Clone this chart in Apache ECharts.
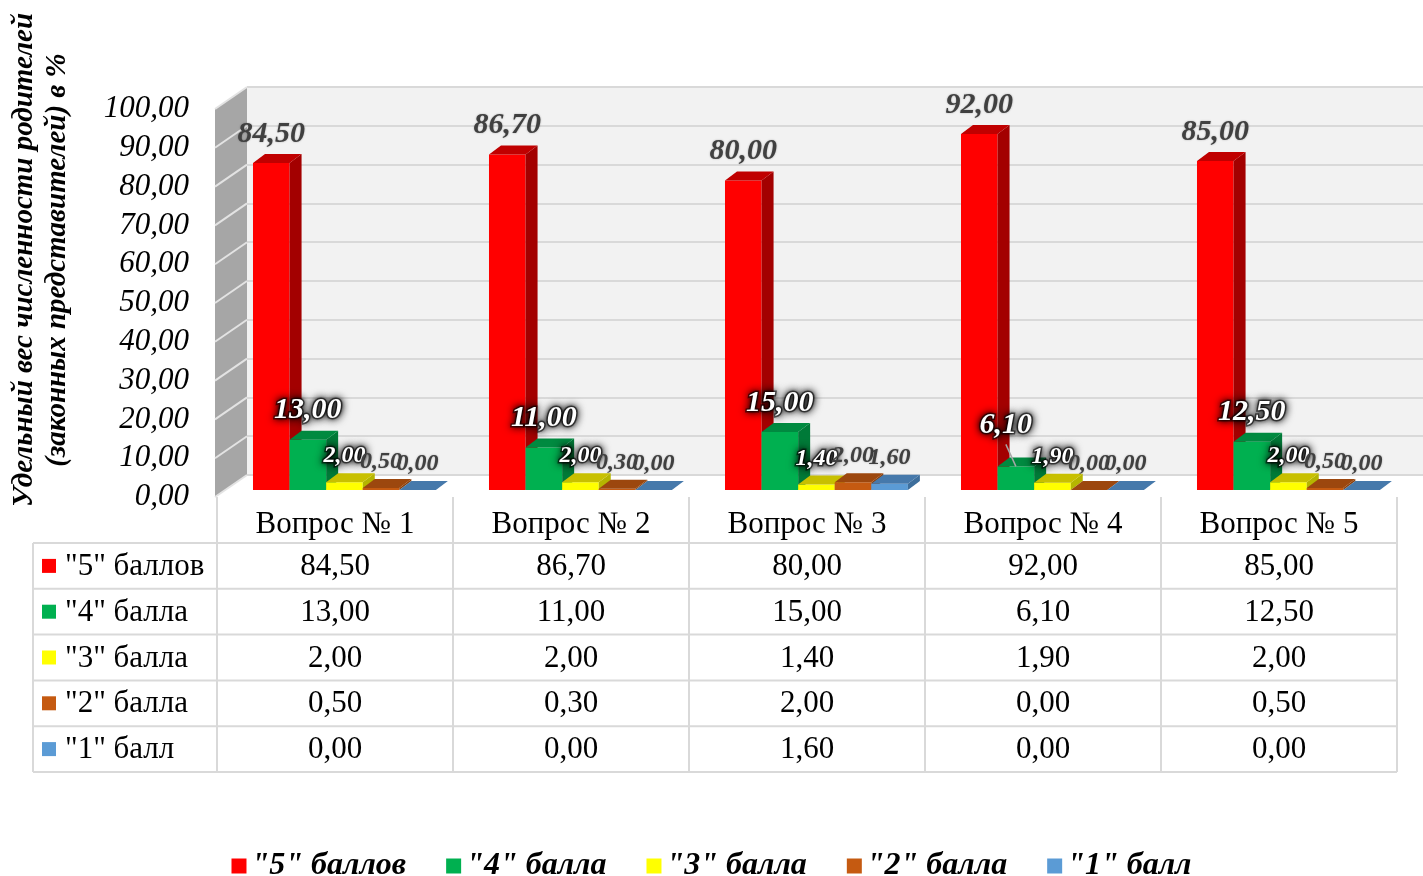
<!DOCTYPE html>
<html>
<head>
<meta charset="utf-8">
<title>Оценка родителей</title>
<script src="https://cdn.jsdelivr.net/npm/echarts@6/dist/echarts.min.js"></script>
<style>
  html, body { margin: 0; padding: 0; background: #fff; }
  #chart { width: 1423px; height: 876px; }
</style>
</head>
<body>
<div id="chart"></div>
<script>
// данные опроса
const categories = ['Вопрос № 1', 'Вопрос № 2', 'Вопрос № 3', 'Вопрос № 4', 'Вопрос № 5'];
const seriesNames = ['"5" баллов', '"4" балла', '"3" балла', '"2" балла', '"1" балл'];
const score5 = [84.5, 86.7, 80.0, 92.0, 85.0];
const score4 = [13.0, 11.0, 15.0, 6.1, 12.5];
const score3 = [2.0, 2.0, 1.4, 1.9, 2.0];
const score2 = [0.5, 0.3, 2.0, 0.0, 0.5];
const score1 = [0.0, 0.0, 1.6, 0.0, 0.0];
const yTicks = [0, 10, 20, 30, 40, 50, 60, 70, 80, 90, 100];
const allScores = [score5, score4, score3, score2, score1];

const SERIF = '"Liberation Serif", "Times New Roman", serif';
// цвета граней: перед, бок, верх
const palette = [
  { front: '#ff0000', side: '#a30000', top: '#c00000' },
  { front: '#00b050', side: '#007a38', top: '#008a40' },
  { front: '#ffff00', side: '#b5b500', top: '#c8c000' },
  { front: '#c55a11', side: '#8a3f0c', top: '#9c470e' },
  { front: '#5b9bd5', side: '#3d6e9c', top: '#4679ab' }
];

const fmt = v => v.toFixed(2).replace('.', ',');

function renderBar(si) {
  return function (params, api) {
    const ci = api.value(0), v = api.value(1);
    const top = api.coord([ci, v]);
    const base = api.coord([ci, 0]);
    const band = api.size([1, 0])[0];
    const bw = band * 0.155;
    const x0 = top[0] - 2.5 * bw + band * 0.04 + si * bw;
    const yT = top[1], yB = base[1];
    const DX = 12, DY = -9;
    const col = palette[si];
    const kids = [
      { type: 'rect', shape: { x: x0, y: yT, width: bw, height: yB - yT }, style: { fill: col.front } },
      { type: 'polygon', shape: { points: [[x0 + bw, yT], [x0 + bw + DX, yT + DY], [x0 + bw + DX, yB + DY], [x0 + bw, yB]] }, style: { fill: col.side } },
      { type: 'polygon', shape: { points: [[x0, yT], [x0 + DX, yT + DY], [x0 + bw + DX, yT + DY], [x0 + bw, yT]] }, style: { fill: col.top } }
    ];
    const big = si < 2;
    const white = si === 1 || si === 2;
    let lx = x0 + bw / 2, ly = yT + DY - 5;
    // короткий зелёный столбик - подпись вынесена с выноской
    if (si === 1 && v < 8) {
      lx -= 10; ly -= 12;
      kids.push({ type: 'line', shape: { x1: lx, y1: ly + 4, x2: x0 + bw / 2, y2: yT }, style: { stroke: '#a6a6a6', lineWidth: 1.5 } });
    }
    const font = 'italic bold ' + (big ? 30 : 24) + 'px ' + SERIF;
    if (white) {
      // тёмное свечение под белой подписью
      kids.push({
        type: 'text', z2: 9,
        style: {
          text: fmt(v), x: lx, y: ly, align: 'center', verticalAlign: 'bottom', font: font,
          fill: '#000', stroke: 'rgba(0,0,0,0.55)', lineWidth: 3,
          textShadowColor: 'rgba(0,0,0,1)', textShadowBlur: 8
        }
      });
    }
    kids.push({
      type: 'text', z2: 10,
      style: {
        text: fmt(v), x: lx, y: ly, align: 'center', verticalAlign: 'bottom', font: font,
        fill: white ? '#ffffff' : '#404040',
        textShadowColor: white ? 'rgba(0,0,0,1)' : 'rgba(0,0,0,0.3)',
        textShadowBlur: white ? 4 : 2
      }
    });
    return { type: 'group', children: kids };
  };
}

function renderSideWall(params, api) {
  const cs = params.coordSys;
  const p = api.coord([0, api.value(1)]);
  const WX = -32, WY = 22;
  const kids = [];
  if (params.dataIndex === 0) {
    kids.push({ type: 'polygon', shape: { points: [[cs.x, cs.y], [cs.x, cs.y + cs.height], [cs.x + WX, cs.y + cs.height + WY], [cs.x + WX, cs.y + WY]] }, style: { fill: '#a6a6a6' } });
  }
  kids.push({ type: 'line', shape: { x1: cs.x, y1: p[1], x2: cs.x + WX, y2: p[1] + WY }, style: { stroke: '#e3e3e3', lineWidth: 2 } });
  return { type: 'group', children: kids };
}

// таблица данных под диаграммой
const tableTop = 497, headerH = 46, rowH = 45.8, colLeft = 217, colW = 236, tabLeft = 33;
const tableRight = colLeft + colW * categories.length;
const tableBottom = tableTop + headerH + rowH * seriesNames.length;
const tableFont = '31px ' + SERIF;
const tableEls = [];
for (let r = 0; r <= seriesNames.length; r++) {
  const y = tableTop + headerH + r * rowH;
  tableEls.push({ type: 'line', shape: { x1: tabLeft, y1: y, x2: tableRight, y2: y }, style: { stroke: '#d9d9d9', lineWidth: 2 } });
}
tableEls.push({ type: 'line', shape: { x1: tabLeft, y1: tableTop + headerH, x2: tabLeft, y2: tableBottom }, style: { stroke: '#d9d9d9', lineWidth: 2 } });
for (let c = 0; c <= categories.length; c++) {
  const x = colLeft + c * colW;
  tableEls.push({ type: 'line', shape: { x1: x, y1: tableTop, x2: x, y2: tableBottom }, style: { stroke: '#d9d9d9', lineWidth: 2 } });
}
categories.forEach((name, c) => {
  tableEls.push({ type: 'text', style: { text: name, x: colLeft + (c + 0.5) * colW, y: tableTop + headerH / 2 + 5, align: 'center', verticalAlign: 'middle', font: tableFont, fill: '#000' } });
});
seriesNames.forEach((name, r) => {
  const cy = tableTop + headerH + (r + 0.5) * rowH;
  tableEls.push({ type: 'rect', shape: { x: 42, y: cy - 7, width: 14, height: 14 }, style: { fill: palette[r].front } });
  tableEls.push({ type: 'text', style: { text: name, x: 65, y: cy + 1, align: 'left', verticalAlign: 'middle', font: tableFont, fill: '#000' } });
  allScores[r].forEach((v, c) => {
    tableEls.push({ type: 'text', style: { text: fmt(v), x: colLeft + (c + 0.5) * colW, y: cy + 1, align: 'center', verticalAlign: 'middle', font: tableFont, fill: '#000' } });
  });
});

const chart = echarts.init(document.getElementById('chart'));

const option = {
  animation: false,
  backgroundColor: '#ffffff',
  grid: [
    { left: 217, width: 1180, top: 103, height: 387 },
    { left: 247, right: 0, top: 87, height: 388, show: true, backgroundColor: '#f2f2f2', borderWidth: 0 },
    { left: 215, width: 1180, top: 109, height: 388 }
  ],
  xAxis: [
    { type: 'category', gridIndex: 0, data: categories, show: false },
    { type: 'category', gridIndex: 1, data: categories, show: false },
    { type: 'value', gridIndex: 2, show: false, min: 0, max: 1 }
  ],
  yAxis: [
    { type: 'value', gridIndex: 0, min: 0, max: 100, interval: 10, show: false },
    {
      type: 'value', gridIndex: 1, min: 0, max: 100, interval: 10,
      axisLine: { show: false }, axisTick: { show: false }, axisLabel: { show: false },
      splitLine: { show: true, lineStyle: { color: '#d9d9d9', width: 2 } }
    },
    {
      type: 'value', gridIndex: 2, min: 0, max: 100, interval: 10,
      axisLine: { show: false }, axisTick: { show: false }, splitLine: { show: false },
      axisLabel: {
        margin: 26, color: '#000', fontFamily: SERIF, fontStyle: 'italic', fontSize: 31,
        formatter: v => fmt(v)
      }
    }
  ],
  legend: {
    data: seriesNames,
    top: 845,
    left: 'center',
    icon: 'rect',
    itemWidth: 15,
    itemHeight: 15,
    itemGap: 40,
    textStyle: { color: '#000', fontFamily: SERIF, fontStyle: 'italic', fontWeight: 'bold', fontSize: 32 }
  },
  graphic: [
    {
      type: 'text', x: 41, y: 260, rotation: Math.PI / 2,
      style: {
        text: 'Удельный вес численности родителей\n(законных представителей) в %',
        align: 'center', verticalAlign: 'middle', lineHeight: 33,
        font: 'italic bold 29px ' + SERIF, fill: '#000'
      }
    }
  ].concat(tableEls),
  series: [
    {
      type: 'custom', name: 'wall', xAxisIndex: 1, yAxisIndex: 1,
      renderItem: renderSideWall, data: yTicks.map(v => [0, v]), silent: true
    }
  ].concat(seriesNames.map((name, si) => ({
    type: 'custom',
    name: name,
    xAxisIndex: 0,
    yAxisIndex: 0,
    z: 3 + si,
    itemStyle: { color: palette[si].front },
    renderItem: renderBar(si),
    data: allScores[si].map((v, ci) => [ci, v])
  })))
};

chart.setOption(option);
</script>
</body>
</html>
